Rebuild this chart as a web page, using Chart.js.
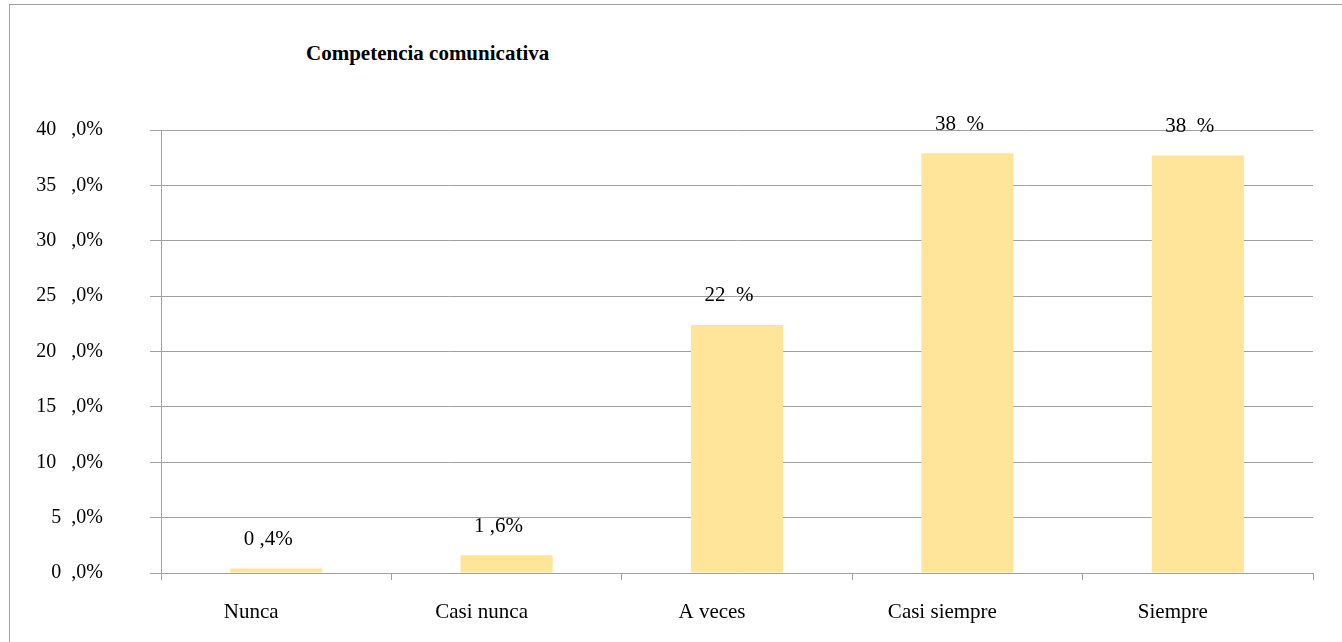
<!DOCTYPE html>
<html>
<head>
<meta charset="utf-8">
<script src="https://cdn.jsdelivr.net/npm/chart.js@4/dist/chart.umd.min.js"></script>
<style>
  html, body { margin: 0; padding: 0; background: #fff; }
  #wrap { position: relative; width: 1342px; height: 642px; overflow: hidden; }
  #frame { position: absolute; left: 9px; top: 4px; width: 1400px; height: 700px;
           border-left: 1.5px solid #a0a0a0; border-top: 1.5px solid #a0a0a0; }
  #title { position: absolute; left: 306px; top: 40px; font: bold 21px "Liberation Serif", serif; color: #000; line-height: 26px; }
  canvas { position: absolute; left: 0; top: 0; }
</style>
</head>
<body>
<div id="wrap">
  <div id="frame"></div>
  <div id="title">Competencia comunicativa</div>
  <canvas id="chart" width="1342" height="642"></canvas>
</div>
<script>
// datos del gráfico
const categories = ["Nunca", "Casi nunca", "A veces", "Casi siempre", "Siempre"];
const values = [0.4, 1.6, 22.4, 37.9, 37.7];
const valueLabels = ["0 ,4%", "1 ,6%", "22  %", "38  %", "38  %"];
const yTickLabels = ["0  ,0%", "5  ,0%", "10   ,0%", "15   ,0%", "20   ,0%", "25   ,0%", "30   ,0%", "35   ,0%", "40   ,0%"];

const serif = "'Liberation Serif', 'Times New Roman', serif";

// etiquetas encima de las barras
const barLabels = {
  id: "barLabels",
  afterDatasetsDraw(chart) {
    const ctx = chart.ctx;
    const meta = chart.getDatasetMeta(0);
    ctx.save();
    ctx.font = "21px " + serif;
    ctx.fillStyle = "#000";
    ctx.textAlign = "center";
    ctx.textBaseline = "middle";
    meta.data.forEach((bar, i) => {
      ctx.fillText(valueLabels[i], bar.x - 8, bar.y - 29);
    });
    ctx.restore();
  }
};

new Chart(document.getElementById("chart").getContext("2d"), {
  type: "bar",
  data: {
    labels: categories,
    datasets: [{
      data: values,
      backgroundColor: "#fee599",
      barPercentage: 0.4,
      categoryPercentage: 1
    }]
  },
  options: {
    responsive: false,
    animation: false,
    layout: { padding: { top: 130, right: 29, left: 0, bottom: 0 } },
    plugins: {
      legend: { display: false },
      tooltip: { enabled: false }
    },
    scales: {
      y: {
        min: 0,
        max: 40,
        afterFit(scale) { scale.width = 161; },
        ticks: {
          stepSize: 5,
          padding: 47,
          color: "#000",
          font: { family: serif, size: 20 },
          callback: (v, i) => yTickLabels[i]
        },
        grid: { color: "#a0a0a0", lineWidth: 1, tickLength: 11 },
        border: { color: "#a0a0a0", width: 1 }
      },
      x: {
        afterFit(scale) { scale.height = 69; },
        ticks: {
          padding: 20,
          labelOffset: -25,
          color: "#000",
          font: { family: serif, size: 21 }
        },
        grid: { drawOnChartArea: false, drawTicks: true, tickLength: 7, color: "#a0a0a0", offset: true },
        border: { color: "#a0a0a0", width: 1 }
      }
    }
  },
  plugins: [barLabels]
});
</script>
</body>
</html>
